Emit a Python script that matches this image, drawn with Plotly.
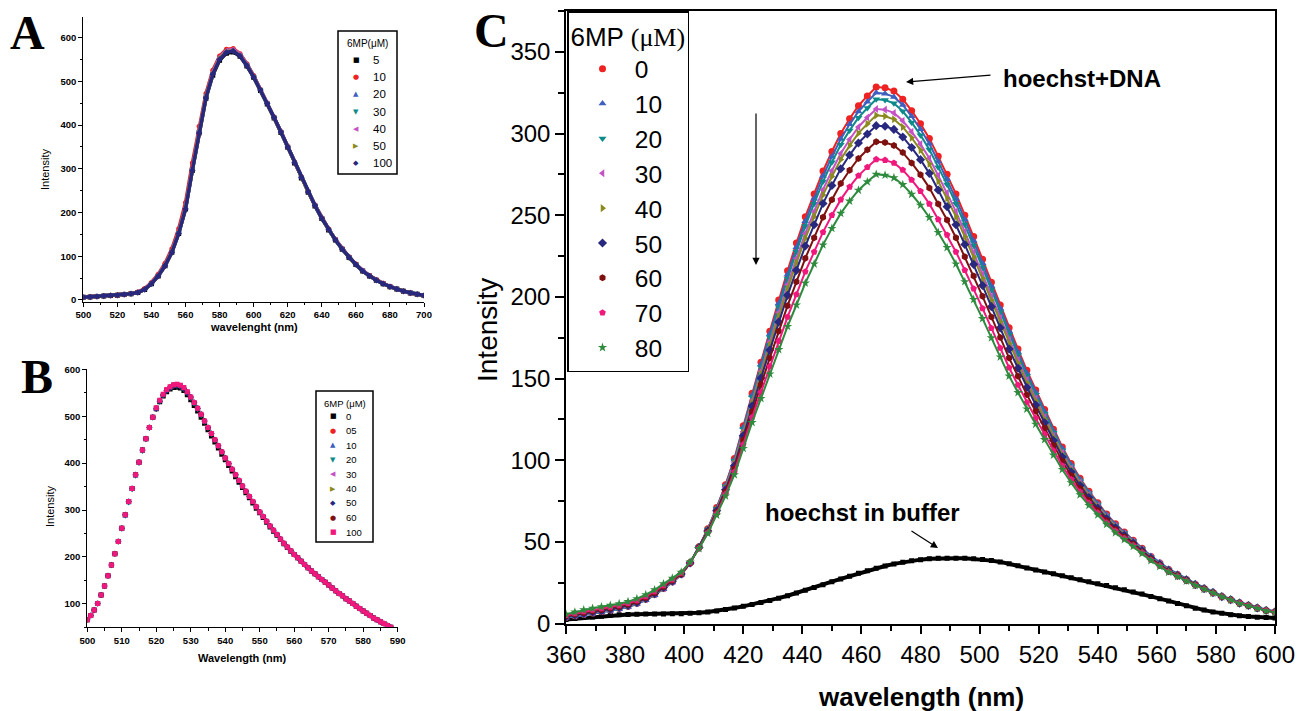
import numpy as np
import plotly.graph_objects as go

W, H = 1302, 711

SANS = "Liberation Sans, Arial, sans-serif"
SERIF = "Liberation Serif, Times New Roman, serif"
GLYPH_FONT = "DejaVu Sans, Liberation Sans, sans-serif"

# ---------------- Panel A: 500-700 nm, 4 nm step ----------------
wl_a = list(range(500, 701, 4))
labels_a = ["5", "10", "20", "30", "40", "50", "100"]
a_5 = [6, 7, 8, 9, 10, 11, 12.5, 14, 17, 24, 37, 55, 78, 109, 152, 208, 296, 382, 461, 514,
       548, 564, 567, 557, 535, 509, 479, 448, 416, 383, 349, 313, 279, 246, 215, 186, 160, 137, 116, 97,
       81, 66, 55, 45, 37, 30, 25, 20, 16, 13, 10]
a_10 = [6, 7, 8, 9, 10, 11, 12.5, 14.5, 18, 26, 40, 59, 84, 117, 163, 223, 313, 397, 472, 525,
        558, 573, 575, 563, 540, 513, 482, 450, 418, 385, 351, 315, 281, 248, 217, 188, 162, 138, 117, 98,
        82, 67, 56, 46, 38, 31, 25, 20, 16, 13, 10]
a_20 = [6, 7, 8, 9, 10, 11, 12.5, 14, 17.5, 25, 38, 57, 80, 112, 156, 212, 301, 387, 466, 520,
        554, 570, 572, 561, 539, 512, 481, 450, 418, 385, 351, 315, 281, 248, 217, 188, 162, 138, 117, 98,
        81, 67, 55, 46, 37, 31, 25, 20, 16, 13, 10]
a_30 = [6, 7, 8, 9, 10, 11, 12.5, 14, 17, 24.5, 37.5, 56, 79, 110, 154, 210, 299, 385, 464, 518,
        553, 569, 571, 560, 538, 511, 481, 449, 417, 384, 350, 314, 280, 247, 216, 187, 161, 137, 116, 97,
        81, 66, 55, 45, 37, 30, 25, 20, 16, 13, 10]
a_40 = [6, 7, 8, 9, 10, 11, 12.5, 14, 17.5, 25, 38, 56, 80, 111, 155, 211, 300, 386, 465, 520,
        555, 570, 573, 562, 539, 512, 481, 450, 418, 385, 351, 315, 281, 248, 217, 188, 162, 138, 117, 98,
        81, 67, 55, 46, 37, 31, 25, 20, 16, 13, 10]
a_50 = [6, 7, 8, 9, 10, 11, 12.5, 14, 17, 24, 37, 55, 78, 110, 153, 209, 297, 383, 463, 517,
        552, 568, 570, 559, 537, 511, 480, 449, 417, 384, 350, 314, 280, 247, 216, 187, 161, 137, 116, 97,
        81, 66, 55, 45, 37, 30, 25, 20, 16, 13, 10]
a_100 = [6, 7, 8, 9, 10, 11, 12.5, 14, 17, 24, 37, 55, 78, 109, 152, 208, 296, 382, 462, 516,
         550, 566, 569, 558, 536, 510, 480, 449, 417, 384, 350, 314, 280, 247, 216, 187, 161, 137, 116, 97,
         81, 66, 55, 45, 37, 30, 25, 20, 16, 13, 10]

# ---------------- Panel B: 500-588 nm, 1 nm step ----------------
wl_b = list(range(500, 589))
labels_b = ["0", "05", "10", "20", "30", "40", "50", "60", "100"]
b_0 = [66, 75, 87, 101, 119, 138, 160, 183, 207, 233,
       261, 290, 318, 346, 375, 402, 428, 452, 476, 498,
       516, 531, 543, 552, 558, 561, 562, 560, 555, 546,
       535, 523, 511, 498, 485, 471, 458, 445, 432, 419,
       407, 395, 383, 371, 359, 348, 337, 326, 315, 304,
       294, 284, 274, 264, 255, 246, 237, 228, 220, 212,
       205, 198, 191, 184, 177, 170, 164, 158, 152, 146,
       140, 134, 128, 122, 117, 111, 106, 101, 95, 90,
       85, 80, 75, 70, 66, 62, 58, 54, 50]
b_05 = [66, 75, 87, 101, 119, 138, 160, 183, 207, 233,
        261, 290, 318, 346, 375, 402, 428, 452, 476, 498,
        517, 533, 546, 556, 562, 566, 567, 565, 560, 551,
        541, 529, 517, 504, 490, 476, 463, 450, 437, 424,
        411, 399, 387, 375, 363, 351, 340, 329, 318, 307,
        296, 286, 276, 266, 257, 248, 238, 229, 221, 213,
        205, 198, 191, 184, 177, 170, 164, 158, 152, 146,
        140, 134, 128, 122, 117, 111, 106, 101, 95, 90,
        85, 80, 75, 70, 66, 62, 58, 54, 50]
b_10 = [66, 75, 87, 101, 119, 138, 160, 183, 207, 233,
        259, 287, 315, 343, 372, 399, 425, 450, 474, 496,
        515, 531, 544, 554, 560, 564, 565, 563, 558, 549,
        538, 526, 514, 501, 487, 474, 461, 448, 435, 422,
        411, 399, 387, 375, 363, 351, 340, 329, 318, 307,
        296, 286, 276, 266, 257, 248, 238, 229, 221, 213,
        205, 198, 191, 184, 177, 170, 164, 158, 152, 146,
        140, 134, 128, 122, 117, 111, 106, 101, 95, 90,
        85, 80, 75, 70, 66, 62, 58, 54, 50]
b_20 = [66, 75, 87, 101, 119, 138, 160, 183, 207, 233,
        259, 287, 315, 343, 372, 399, 425, 450, 474, 496,
        514, 530, 543, 553, 559, 563, 564, 562, 557, 548,
        538, 526, 514, 501, 487, 474, 461, 448, 435, 422,
        411, 399, 387, 375, 363, 351, 340, 329, 318, 307,
        296, 286, 276, 266, 257, 248, 238, 229, 221, 213,
        205, 198, 191, 184, 177, 170, 164, 158, 152, 146,
        140, 134, 128, 122, 117, 111, 106, 101, 95, 90,
        85, 80, 75, 70, 66, 62, 58, 54, 50]
b_30 = [66, 75, 87, 101, 119, 138, 160, 183, 207, 233,
        261, 290, 318, 346, 375, 402, 428, 452, 476, 498,
        517, 533, 546, 556, 562, 566, 567, 565, 560, 551,
        541, 529, 517, 504, 490, 476, 463, 450, 437, 424,
        411, 399, 387, 375, 363, 351, 340, 329, 318, 307,
        296, 286, 276, 266, 257, 248, 238, 229, 221, 213,
        205, 198, 191, 184, 177, 170, 164, 158, 152, 146,
        140, 134, 128, 122, 117, 111, 106, 101, 95, 90,
        85, 80, 75, 70, 66, 62, 58, 54, 50]
b_40 = [66, 75, 87, 101, 119, 138, 160, 183, 207, 233,
        261, 290, 318, 346, 375, 402, 428, 452, 476, 498,
        517, 533, 546, 556, 562, 566, 568, 566, 561, 552,
        541, 529, 517, 504, 490, 476, 463, 450, 437, 424,
        411, 399, 387, 375, 363, 351, 340, 329, 318, 307,
        296, 286, 276, 266, 257, 248, 238, 229, 221, 213,
        205, 198, 191, 184, 177, 170, 164, 158, 152, 146,
        140, 134, 128, 122, 117, 111, 106, 101, 95, 90,
        85, 80, 75, 70, 66, 62, 58, 54, 50]
b_50 = [66, 75, 87, 101, 119, 138, 160, 183, 207, 233,
        261, 290, 318, 346, 375, 402, 428, 452, 476, 498,
        516, 532, 545, 555, 561, 565, 566, 564, 559, 550,
        541, 529, 517, 504, 490, 476, 463, 450, 437, 424,
        411, 399, 387, 375, 363, 351, 340, 329, 318, 307,
        296, 286, 276, 266, 257, 248, 238, 229, 221, 213,
        205, 198, 191, 184, 177, 170, 164, 158, 152, 146,
        140, 134, 128, 122, 117, 111, 106, 101, 95, 90,
        85, 80, 75, 70, 66, 62, 58, 54, 50]
b_60 = [66, 75, 87, 101, 119, 138, 160, 183, 207, 233,
        261, 290, 318, 346, 375, 402, 428, 452, 476, 498,
        518, 534, 547, 557, 563, 567, 568, 566, 561, 552,
        541, 529, 517, 504, 490, 476, 463, 450, 437, 424,
        411, 399, 387, 375, 363, 351, 340, 329, 318, 307,
        296, 286, 276, 266, 257, 248, 238, 229, 221, 213,
        205, 198, 191, 184, 177, 170, 164, 158, 152, 146,
        140, 134, 128, 122, 117, 111, 106, 101, 95, 90,
        85, 80, 75, 70, 66, 62, 58, 54, 50]
b_100 = [66, 75, 87, 101, 119, 138, 160, 183, 207, 233,
         261, 290, 318, 346, 375, 402, 428, 452, 476, 498,
         518, 534, 547, 557, 563, 567, 568, 566, 561, 552,
         541, 529, 517, 504, 490, 476, 463, 450, 437, 424,
         411, 399, 387, 375, 363, 351, 340, 329, 318, 307,
         296, 286, 276, 266, 257, 248, 238, 229, 221, 213,
         205, 198, 191, 184, 177, 170, 164, 158, 152, 146,
         140, 134, 128, 122, 117, 111, 106, 101, 95, 90,
         85, 80, 75, 70, 66, 62, 58, 54, 50]

# ---------------- Panel C: 360-600 nm, 3 nm step ----------------
wl_c = list(range(360, 601, 3))
labels_c = ["0", "10", "20", "30", "40", "50", "60", "70", "80"]
c_0 = [4, 4.8, 5.6, 6.5, 7.4, 8.3, 9.3, 10.6, 12.4, 14.8,
       17.8, 21.5, 25.5, 30, 37, 47, 58, 71, 85, 101,
       121, 141, 160, 179, 198, 216, 233, 249, 263, 277,
       289, 300, 309, 317, 323, 328.5, 328, 326, 321, 314,
       306, 297, 286, 275, 263, 250, 237, 223, 209, 195,
       181, 168, 155, 143, 131, 119, 108, 98, 89, 81,
       74, 67, 61, 56, 51, 46, 41, 37, 33, 30,
       27, 24, 21.5, 19, 16.5, 14.5, 12.5, 11, 9.5, 8, 7]
c_10 = [3.5, 4.3, 5.1, 6.0, 6.9, 7.8, 8.8, 10.1, 11.9, 14.3,
        17.3, 21.0, 25.1, 29.8, 36.9, 46.9, 57.8, 70.7, 84.5, 100.3,
        120.1, 139.8, 158.5, 177.2, 196.0, 213.7, 230.4, 246.3, 260.1, 274.0,
        285.8, 296.7, 305.6, 313.5, 319.4, 324.9, 324.4, 322.4, 317.5, 310.5,
        302.6, 293.7, 282.9, 272.0, 260.1, 247.3, 234.4, 220.5, 206.7, 192.9,
        179.0, 166.2, 153.4, 141.6, 129.8, 117.9, 107.1, 97.2, 88.3, 80.4,
        73.5, 66.6, 60.6, 55.7, 50.7, 45.8, 41.4, 37.5, 33.5, 30.5,
        27.5, 24.6, 22.1, 19.6, 17.1, 15.1, 13.1, 11.6, 10.1, 8.6, 7.6]
c_20 = [3.8, 4.6, 5.3, 6.2, 7.1, 8.0, 9.0, 10.3, 12.1, 14.5,
        17.5, 21.2, 25.3, 29.9, 37.0, 46.8, 57.6, 70.3, 84.0, 99.6,
        119.1, 138.5, 156.9, 175.3, 193.7, 211.2, 227.6, 243.3, 257.0, 270.6,
        282.4, 293.1, 301.9, 309.7, 315.6, 320.9, 320.5, 318.5, 313.6, 306.8,
        299.0, 290.2, 279.4, 268.7, 257.0, 244.3, 231.5, 217.9, 204.2, 190.5,
        176.8, 164.3, 151.6, 140.0, 128.4, 116.8, 106.1, 96.3, 87.6, 79.8,
        72.9, 66.1, 60.2, 55.4, 50.5, 45.6, 40.6, 36.7, 32.8, 29.8,
        26.9, 23.9, 21.5, 19.0, 16.5, 14.5, 12.5, 11.0, 9.5, 8.0, 7.0]
c_30 = [4.0, 4.8, 5.6, 6.5, 7.4, 8.3, 9.3, 10.6, 12.4, 14.8,
        17.8, 21.5, 25.5, 30.0, 37.0, 46.7, 57.3, 69.8, 83.3, 98.5,
        117.5, 136.5, 154.4, 172.4, 190.4, 207.4, 223.4, 238.8, 252.2, 265.6,
        277.2, 287.7, 296.3, 304.0, 309.8, 315.0, 314.6, 312.6, 307.8, 301.1,
        293.5, 284.8, 274.3, 263.7, 252.2, 239.8, 227.3, 213.9, 200.4, 187.0,
        173.6, 161.3, 149.0, 137.7, 126.4, 115.0, 104.5, 95.0, 86.4, 78.8,
        72.1, 65.4, 59.7, 54.9, 50.0, 45.2, 40.4, 36.5, 32.6, 29.7,
        26.8, 23.8, 21.4, 18.9, 16.5, 14.5, 12.5, 11.0, 9.5, 8.0, 7.0]
c_40 = [4.2, 5.0, 5.9, 6.8, 7.7, 8.6, 9.6, 10.9, 12.7, 15.1,
        18.1, 21.8, 25.7, 30.2, 37.1, 46.6, 57.1, 69.5, 82.8, 97.8,
        116.5, 135.2, 152.8, 170.5, 188.1, 204.9, 220.7, 235.8, 249.1, 262.3,
        273.7, 284.1, 292.6, 300.2, 305.9, 311.1, 310.6, 308.7, 304.0, 297.4,
        289.8, 281.3, 270.8, 260.4, 249.1, 236.8, 224.4, 211.2, 197.9, 184.7,
        171.4, 159.4, 147.3, 136.2, 125.0, 113.8, 103.5, 94.2, 85.7, 78.2,
        71.6, 64.9, 59.3, 54.5, 49.8, 45.0, 40.2, 36.3, 32.5, 29.6,
        26.7, 23.8, 21.3, 18.9, 16.5, 14.5, 12.5, 11.0, 9.5, 8.0, 7.0]
c_50 = [4.3, 5.2, 6.1, 7.0, 7.9, 8.8, 9.8, 11.1, 12.9, 15.3,
        18.3, 22.0, 25.9, 30.3, 37.1, 46.5, 56.7, 69.0, 81.9, 96.6,
        114.9, 133.1, 150.2, 167.4, 184.6, 200.9, 216.2, 231.1, 244.1, 257.1,
        268.2, 278.4, 286.8, 294.2, 299.7, 304.8, 304.4, 302.5, 297.9, 291.4,
        284.0, 275.6, 265.4, 255.2, 244.1, 232.0, 219.9, 206.9, 194.0, 181.0,
        168.0, 156.3, 144.5, 133.7, 122.9, 112.0, 101.9, 92.8, 84.5, 77.1,
        70.7, 64.2, 58.6, 54.0, 49.3, 44.6, 39.9, 36.1, 32.3, 29.4,
        26.6, 23.7, 21.3, 18.9, 16.4, 14.5, 12.5, 11.0, 9.5, 8.0, 7.0]
c_60 = [4.6, 5.6, 6.6, 7.5, 8.4, 9.3, 10.3, 11.6, 13.4, 15.8,
        18.8, 22.5, 26.3, 30.5, 37.2, 46.3, 56.2, 68.1, 80.7, 94.8,
        112.4, 129.8, 146.1, 162.6, 179.0, 194.6, 209.2, 223.6, 236.2, 248.7,
        259.5, 269.4, 277.5, 284.7, 290.1, 295.0, 294.5, 292.7, 288.3, 282.0,
        274.8, 266.7, 256.8, 247.0, 236.2, 224.5, 212.8, 200.3, 187.7, 175.1,
        162.5, 151.4, 140.1, 129.9, 119.5, 109.0, 99.4, 90.6, 82.6, 75.5,
        69.3, 63.0, 57.6, 53.1, 48.6, 44.0, 39.4, 35.7, 32.0, 29.2,
        26.4, 23.6, 21.2, 18.8, 16.4, 14.5, 12.5, 11.0, 9.5, 8.0, 7.0]
c_70 = [5.1, 6.2, 7.4, 8.3, 9.2, 10.1, 11.1, 12.4, 14.2, 16.6,
        19.6, 23.3, 26.9, 30.9, 37.4, 46.0, 55.6, 67.2, 79.3, 92.8,
        109.6, 126.2, 141.6, 157.3, 172.9, 187.7, 201.5, 215.4, 227.5, 239.6,
        250.0, 259.5, 267.3, 274.2, 279.4, 284.2, 283.7, 282.0, 277.7, 271.6,
        264.7, 256.9, 247.4, 237.9, 227.5, 216.3, 205.0, 192.9, 180.8, 168.7,
        156.6, 146.0, 135.3, 125.6, 115.8, 105.8, 96.6, 88.2, 80.6, 73.8,
        67.8, 61.7, 56.6, 52.2, 47.8, 43.4, 38.9, 35.3, 31.7, 28.9,
        26.2, 23.4, 21.1, 18.7, 16.4, 14.4, 12.5, 11.0, 9.5, 8.0, 7.0]
c_80 = [5.7, 7.0, 8.4, 9.3, 10.2, 11.1, 12.1, 13.4, 15.2, 17.6,
        20.6, 24.3, 27.7, 31.4, 37.6, 45.9, 55.2, 66.4, 78.1, 91.1,
        107.2, 123.1, 137.8, 152.8, 167.7, 181.9, 195.0, 208.4, 220.1, 231.8,
        241.9, 251.1, 258.6, 265.3, 270.4, 275.0, 274.5, 272.9, 268.7, 262.8,
        256.1, 248.6, 239.4, 230.2, 220.1, 209.3, 198.4, 186.7, 174.9, 163.2,
        151.5, 141.4, 131.3, 122.0, 112.6, 103.1, 94.3, 86.2, 78.8, 72.3,
        66.5, 60.7, 55.6, 51.4, 47.2, 42.9, 38.5, 34.9, 31.4, 28.7,
        26.0, 23.3, 21.0, 18.7, 16.3, 14.4, 12.3, 10.8, 9.3, 7.8, 6.8]
c_buffer = [2.5, 3.0, 3.6, 4.0, 4.5, 5.0, 5.3, 5.5, 5.7, 5.8,
            5.8, 5.8, 5.9, 6.0, 6.2, 6.6, 7.1, 7.7, 8.5, 9.5,
            10.5, 11.6, 12.8, 14.1, 15.5, 17.0, 18.6, 20.3, 22.0, 23.8,
            25.6, 27.3, 29.0, 30.7, 32.3, 33.8, 35.2, 36.5, 37.5, 38.4,
            39.1, 39.6, 39.9, 40.0, 40.0, 39.9, 39.6, 39.2, 38.5, 37.7,
            36.6, 35.3, 34.0, 32.8, 31.6, 30.4, 29.2, 28.0, 26.8, 25.6,
            24.4, 23.2, 21.9, 20.6, 19.3, 18.0, 16.6, 15.2, 13.7, 12.2,
            10.8, 9.4, 8.2, 7.1, 6.2, 5.4, 4.8, 4.3, 3.9, 3.6, 3.4]

# Origin-like colour / symbol cycle
COL = {"black": "#000000", "red": "#EE2222", "blue": "#3F5FBF", "teal": "#0E8A8A",
       "magenta": "#C552C5", "olive": "#8A8A1E", "navy": "#28287E", "maroon": "#7E1010",
       "pink": "#F0187C", "green": "#2E8B3E"}

style_a = [("black", "square"), ("red", "circle"), ("blue", "triangle-up"),
           ("teal", "triangle-down"), ("magenta", "triangle-left"),
           ("olive", "triangle-right"), ("navy", "diamond")]
style_b = [("black", "square"), ("red", "circle"), ("blue", "triangle-up"),
           ("teal", "triangle-down"), ("magenta", "triangle-left"),
           ("olive", "triangle-right"), ("navy", "diamond"), ("maroon", "hexagon"),
           ("pink", "square")]
style_c = [("red", "circle"), ("blue", "triangle-up"), ("teal", "triangle-down"),
           ("magenta", "triangle-left"), ("olive", "triangle-right"), ("navy", "diamond"),
           ("maroon", "hexagon"), ("pink", "pentagon"), ("green", "star")]

# text glyphs used for the compact legends of panels A and B
GLYPH = {"square": "\u25A0", "circle": "\u25CF", "triangle-up": "\u25B2",
         "triangle-down": "\u25BC", "triangle-left": "\u25C0", "triangle-right": "\u25B6",
         "diamond": "\u25C6", "hexagon": "\u25CF"}

fig = go.Figure()

# Panel A traces
for lab, ys, (cn, sym) in zip(labels_a, [a_5, a_10, a_20, a_30, a_40, a_50, a_100], style_a):
    fig.add_trace(go.Scatter(x=wl_a, y=ys, mode="lines", line=dict(color=COL[cn], width=3.5),
                             xaxis="x", yaxis="y", showlegend=False, hoverinfo="skip"))
    fig.add_trace(go.Scatter(x=wl_a, y=ys, mode="markers", name=lab, showlegend=False,
                             marker=dict(color=COL[cn], symbol=sym, size=5),
                             xaxis="x", yaxis="y"))

# Panel B traces
for lab, ys, (cn, sym) in zip(labels_b, [b_0, b_05, b_10, b_20, b_30, b_40, b_50, b_60, b_100], style_b):
    fig.add_trace(go.Scatter(x=wl_b, y=ys, mode="markers", name=lab, showlegend=False,
                             marker=dict(color=COL[cn], symbol=sym, size=5),
                             xaxis="x2", yaxis="y2"))

# Panel C traces
fig.add_trace(go.Scatter(x=wl_c, y=c_buffer, mode="lines+markers", showlegend=False,
                         line=dict(color="black", width=4),
                         marker=dict(color="black", symbol="square", size=5),
                         xaxis="x3", yaxis="y3"))
for lab, ys, (cn, sym) in zip(labels_c, [c_0, c_10, c_20, c_30, c_40, c_50, c_60, c_70, c_80], style_c):
    fig.add_trace(go.Scatter(x=wl_c, y=ys, mode="lines", line=dict(color=COL[cn], width=2),
                             xaxis="x3", yaxis="y3", showlegend=False, hoverinfo="skip"))
    fig.add_trace(go.Scatter(x=wl_c, y=ys, mode="markers", name="\u2002" + lab, legend="legend",
                             marker=dict(color=COL[cn], symbol=sym, size=7),
                             xaxis="x3", yaxis="y3"))


def dx(p):
    return p / W


def dy(p):
    return 1 - p / H


small_tick = dict(family=SANS, size=9.5, color="black", weight="bold")
axis_common = dict(showline=True, linecolor="black", showgrid=False, zeroline=False,
                   ticks="outside", tickcolor="black", automargin=False)

fig.update_layout(
    width=W, height=H, margin=dict(l=0, r=0, t=0, b=0, autoexpand=False),
    paper_bgcolor="white", plot_bgcolor="rgba(0,0,0,0)",
    xaxis=dict(**axis_common, domain=[dx(83.3), dx(424)], range=[500, 700], anchor="y",
               dtick=20, tick0=500, ticklen=4, linewidth=1.2, tickwidth=1.2,
               minor=dict(ticks="outside", dtick=10, ticklen=2.5, tickcolor="black"),
               tickfont=small_tick),
    yaxis=dict(**axis_common, domain=[dy(301.7), dy(17)], range=[-4, 647], anchor="x",
               dtick=100, tick0=0, ticklen=4, linewidth=1.2, tickwidth=1.2,
               minor=dict(ticks="outside", dtick=50, ticklen=2.5, tickcolor="black"),
               tickfont=small_tick),
    xaxis2=dict(**axis_common, domain=[dx(87.3), dx(397.7)], range=[500, 590], anchor="y2",
                dtick=10, tick0=500, ticklen=4, linewidth=1.2, tickwidth=1.2,
                minor=dict(ticks="outside", dtick=5, ticklen=2.5, tickcolor="black"),
                tickfont=small_tick),
    yaxis2=dict(**axis_common, domain=[dy(627.3), dy(369.3)], range=[50, 600], anchor="x2",
                dtick=100, tick0=100, ticklen=4, linewidth=1.2, tickwidth=1.2,
                minor=dict(ticks="outside", dtick=50, ticklen=2.5, tickcolor="black"),
                tickfont=small_tick),
    xaxis3=dict(**axis_common, domain=[dx(566), dx(1275)], range=[360, 600], anchor="y3",
                mirror=True, dtick=20, tick0=360, ticklen=9, linewidth=1.5, tickwidth=1.5,
                minor=dict(ticks="outside", dtick=10, ticklen=6, tickcolor="black", tickwidth=1.5),
                tickfont=dict(family=SANS, size=24, color="black")),
    yaxis3=dict(**axis_common, domain=[dy(623.5), dy(11)], range=[0, 375], anchor="x3",
                mirror=True, dtick=50, tick0=0, ticklen=9, linewidth=1.5, tickwidth=1.5,
                minor=dict(ticks="outside", dtick=25, ticklen=6, tickcolor="black", tickwidth=1.5),
                tickfont=dict(family=SANS, size=24, color="black")),
    legend=dict(x=dx(567), y=dy(11), xanchor="left", yanchor="top",
                bgcolor="white", bordercolor="black", borderwidth=1.5, indentation=14,
                font=dict(family=SANS, size=24.5, color="black"),
                title=dict(text="6MP <span style='font-family:Liberation Serif'>(μM)</span>",
                           font=dict(family=SANS, size=26, color="black")),
                tracegroupgap=0),
)

shapes = []
annotations = [
    # panel letters
    dict(x=dx(27), y=dy(32), text="<b>A</b>", font=dict(family=SERIF, size=48, color="black")),
    dict(x=dx(37), y=dy(376), text="<b>B</b>", font=dict(family=SERIF, size=48, color="black")),
    dict(x=dx(491), y=dy(31), text="<b>C</b>", font=dict(family=SERIF, size=48, color="black")),
    # axis titles
    dict(x=dx(45), y=dy(170), text="Intensity", textangle=-90,
         font=dict(family=SANS, size=11, color="black")),
    dict(x=dx(254), y=dy(327), text="<b>wavelenght (nm)</b>",
         font=dict(family=SANS, size=11, color="black")),
    dict(x=dx(50), y=dy(507), text="Intensity", textangle=-90,
         font=dict(family=SANS, size=11, color="black")),
    dict(x=dx(242), y=dy(658), text="<b>Wavelength (nm)</b>",
         font=dict(family=SANS, size=11, color="black")),
    dict(x=dx(487), y=dy(330), text="Intensity", textangle=-90,
         font=dict(family=SANS, size=28, color="black")),
    dict(x=dx(921), y=dy(697), text="<b>wavelength (nm)</b>",
         font=dict(family=SANS, size=26, color="black")),
    # curve labels
    dict(x=dx(1082), y=dy(78), text="<b>hoechst+DNA</b>",
         font=dict(family=SANS, size=24, color="black")),
    dict(x=dx(862), y=dy(512), text="<b>hoechst in buffer</b>",
         font=dict(family=SANS, size=24, color="black")),
]


def compact_legend(box, title, title_size, labels, styles, first_y, step,
                   sym_x, txt_x, txt_size, sym_size):
    """Boxed legend with tighter row spacing than the built-in one."""
    x0, y0, x1, y1 = box
    shapes.append(dict(type="rect", xref="paper", yref="paper",
                       x0=dx(x0), x1=dx(x1), y0=dy(y1), y1=dy(y0),
                       line=dict(color="black", width=1.5), fillcolor="white", layer="above"))
    annotations.append(dict(x=dx((x0 + x1) / 2), y=dy(y0 + 12), text=title,
                            font=dict(family=SANS, size=title_size, color="black")))
    for i, (lab, (cn, sym)) in enumerate(zip(labels, styles)):
        yy = first_y + i * step
        annotations.append(dict(x=dx(sym_x), y=dy(yy), text=GLYPH[sym],
                                font=dict(family=GLYPH_FONT, size=sym_size, color=COL[cn])))
        annotations.append(dict(x=dx(txt_x), y=dy(yy), text=lab, xanchor="left",
                                font=dict(family=SANS, size=txt_size, color="black")))


compact_legend((338, 31, 397, 174), "6MP(μM)", 10, labels_a, style_a,
               60, 17.2, 356, 371, 11.5, 7)
compact_legend((316, 391, 373, 542), "6MP (μM)", 9.5, labels_b, style_b,
               416, 14.5, 333, 344, 9.5, 7)

for a in annotations:
    a.setdefault("xanchor", "center")
    a.update(xref="paper", yref="paper", showarrow=False, yanchor="middle")

arrows = [
    # (head x, head y, tail x, tail y) in px
    (906, 82, 992, 75),
    (756, 265, 756, 112),
    (938, 548, 910, 530),
]
for hx, hy, tx, ty in arrows:
    annotations.append(dict(x=dx(hx), y=dy(hy), xref="paper", yref="paper", text="",
                            showarrow=True, axref="pixel", ayref="pixel",
                            ax=tx - hx, ay=ty - hy, arrowhead=2, arrowsize=1.2,
                            arrowwidth=1.2, arrowcolor="black"))

fig.update_layout(annotations=annotations, shapes=shapes)

fig.write_html("out.html")
